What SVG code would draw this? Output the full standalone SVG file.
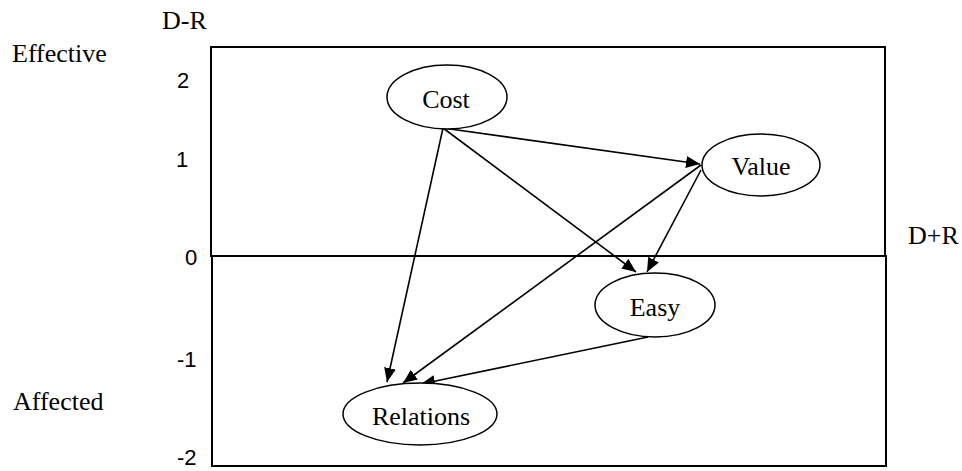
<svg xmlns="http://www.w3.org/2000/svg" width="962" height="471" viewBox="0 0 962 471">
  <style>
    .lbl { font-family: "Liberation Serif", "Times New Roman", serif; font-size: 26px; fill: #000; }
    .num { font-family: "Liberation Sans", Arial, sans-serif; font-size: 22px; fill: #000; }
    .node ellipse { fill: #fff; stroke: #000; stroke-width: 1.5; }
    .node text { font-family: "Liberation Serif", "Times New Roman", serif; font-size: 26px; fill: #000; text-anchor: middle; }
    .frame { fill: none; stroke: #000; stroke-width: 2; }
    .edge { stroke: #000; stroke-width: 1.6; fill: none; marker-end: url(#arr); }
  </style>
  <defs>
    <marker id="arr" markerUnits="userSpaceOnUse" markerWidth="15" markerHeight="13" refX="14" refY="6" orient="auto">
      <path d="M0,0 L14,6 L0,12 z" fill="#000"/>
    </marker>
  </defs>
  <rect width="962" height="471" fill="#fff"/>

  <g id="frame">
    <rect class="frame" x="211" y="47" width="674" height="209"/>
    <rect class="frame" x="212" y="256" width="674" height="210"/>
  </g>

  <g id="axis-labels">
    <text class="lbl" x="162" y="29">D-R</text>
    <text class="lbl" x="12" y="62">Effective</text>
    <text class="lbl" x="13" y="410">Affected</text>
    <text class="lbl" x="908" y="244">D+R</text>
    <text class="num" x="177" y="88">2</text>
    <text class="num" x="176" y="167">1</text>
    <text class="num" x="185" y="265">0</text>
    <text class="num" x="177" y="367">-1</text>
    <text class="num" x="177" y="465">-2</text>
  </g>

  <g id="connectors">
    <line class="edge" x1="443" y1="128" x2="700" y2="164"/>
    <line class="edge" x1="443" y1="128" x2="636" y2="272"/>
    <line class="edge" x1="443" y1="128" x2="387" y2="382"/>
    <line class="edge" x1="701" y1="165" x2="403" y2="383"/>
    <line class="edge" x1="701" y1="170" x2="647" y2="272"/>
    <line class="edge" x1="648" y1="337" x2="421" y2="384"/>
  </g>

  <g id="node-cost" class="node">
    <ellipse cx="447" cy="97" rx="60" ry="32"/>
    <text x="446" y="108">Cost</text>
  </g>
  <g id="node-value" class="node">
    <ellipse cx="761" cy="165" rx="59" ry="31"/>
    <text x="761" y="175">Value</text>
  </g>
  <g id="node-easy" class="node">
    <ellipse cx="655" cy="305" rx="60" ry="32"/>
    <text x="655" y="316">Easy</text>
  </g>
  <g id="node-relations" class="node">
    <ellipse cx="420" cy="414" rx="77" ry="31"/>
    <text x="421" y="425">Relations</text>
  </g>
</svg>
